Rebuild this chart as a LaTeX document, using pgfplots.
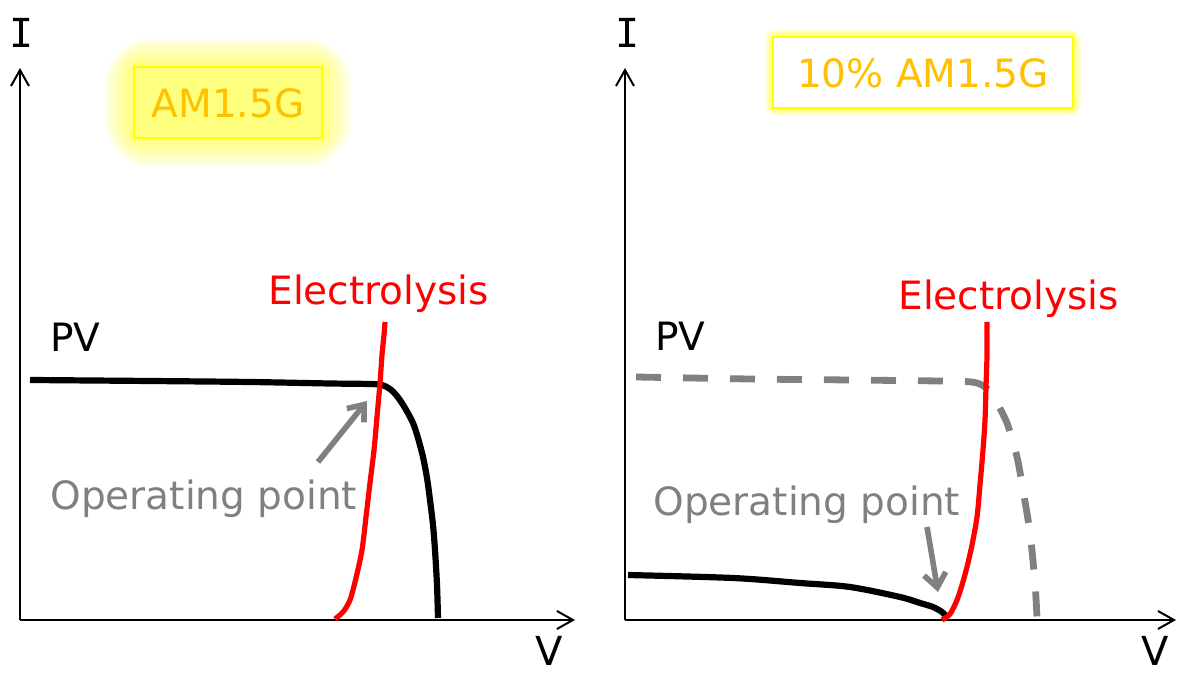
\documentclass[border=0pt]{standalone}
\usepackage{pgfplots}
\pgfplotsset{compat=1.18}
\usepackage{fontspec}
\setmainfont{DejaVu Sans}
\newfontfamily\monof{DejaVu Sans Mono}
\usetikzlibrary{arrows.meta}
\definecolor{gold}{HTML}{FFC000}
\definecolor{ygl}{HTML}{FFFF00}
\definecolor{gr}{HTML}{808080}
\definecolor{rd}{HTML}{FF0000}
\pgfplotsset{ax/.style={x=0.5pt, y=0.5pt, anchor=south west, axis lines=left,
    axis line style={line width=1pt, -{Straight Barb[length=8pt,width=9pt]}},
    xtick=\empty, ytick=\empty, clip=false}}

\begin{document}
\begin{tikzpicture}[x=0.5pt,y=0.5pt,
  lab/.style={font=\fontsize{19.5pt}{23pt}\selectfont, inner sep=0pt}]
\useasboundingbox (0,0) rectangle (1178,674);

% ---- glow boxes ----
\foreach \i in {0,...,15} {
  \fill[ygl, opacity=0.045, rounded corners={2pt+\i*1.5pt}] (134-2*\i, 607+2*\i) rectangle (322+2*\i, 536-2*\i);
}
\draw[ygl, line width=1pt] (134,607) rectangle (322,536);
\node[lab, text=gold] at (228,571) {AM1.5G};

\foreach \i in {0,...,6} {
  \fill[ygl, opacity=0.12, rounded corners={1pt+\i*0.8pt}] (773-1.3*\i, 637+1.3*\i) rectangle (1073+1.3*\i, 566-1.3*\i);
}
\fill[white] (773,637) rectangle (1073,566);
\draw[ygl, line width=1.4pt] (773,637) rectangle (1073,566);
\node[lab, text=gold] at (923,600.5) {10\% AM1.5G};

% ---- left panel ----
\begin{axis}[ax, at={(10pt,27pt)}, xmin=0, xmax=555, ymin=0, ymax=552]
\addplot[black, line width=3.1pt, smooth, line join=round] coordinates {
 (10,240) (130,239) (230,238) (310,236.5) (350,236) (362,235) (370,231) (377,224) (385,212)
 (393,197) (398,182) (403,163) (407,142) (410,120) (413,95) (415,70) (417,35) (418,2)};
\addplot[rd, line width=2.6pt, smooth] coordinates {
 (315,1) (323,8) (330,20) (336,42) (342,70) (346,103) (350,137) (354,170) (357,203)
 (360,237) (362,265) (364,285) (365,298)};
\draw[gr, line width=2.8pt, -{Straight Barb[length=7pt,width=11pt]}] (axis cs:298,158) -- (axis cs:347,219);
\end{axis}

% ---- right panel ----
\begin{axis}[ax, at={(312.5pt,27pt)}, xmin=0, xmax=551, ymin=0, ymax=552]
\addplot[gr, line width=3.4pt, smooth, dash pattern=on 12.5pt off 11pt] coordinates {
 (11,243) (125,241) (225,240) (315,239) (340,238.5) (352,237) (360,233) (368,224) (382,197)
 (392,163) (398,130) (405,87) (410,37) (412,2)};
\addplot[black, line width=3.1pt, smooth] coordinates {
 (3,45) (108,42) (175,37) (225,33) (275,23) (295,17) (308,13) (317,8) (322,3)};
\addplot[rd, line width=2.6pt, smooth] coordinates {
 (317,0) (325,6) (332,20) (337,35) (342,53) (347,75) (352,103) (355,135) (358,170)
 (360,200) (361,233) (362,265) (362,298)};
\draw[gr, line width=2.8pt, -{Straight Barb[length=7pt,width=11pt]}] (axis cs:302,93) -- (axis cs:313,28);
\end{axis}

% ---- labels ----
\node[lab, text=rd, anchor=base west] at (268,369) {Electrolysis};
\node[lab, anchor=base west] at (50,322) {PV};
\node[lab, text=gr, anchor=base west] at (50,164) {Operating point};
\node[inner sep=0pt, font=\monof\fontsize{20pt}{24pt}\selectfont] at (22,641) {I};
\node[inner sep=0pt, font=\fontsize{20pt}{24pt}\selectfont] at (549,23) {V};

\node[lab, text=rd, anchor=base west] at (898,364) {Electrolysis};
\node[lab, anchor=base west] at (655,323) {PV};
\node[lab, text=gr, anchor=base west] at (653,158) {Operating point};
\node[inner sep=0pt, font=\monof\fontsize{20pt}{24pt}\selectfont] at (628,641) {I};
\node[inner sep=0pt, font=\fontsize{20pt}{24pt}\selectfont] at (1155,23) {V};
\end{tikzpicture}
\end{document}
